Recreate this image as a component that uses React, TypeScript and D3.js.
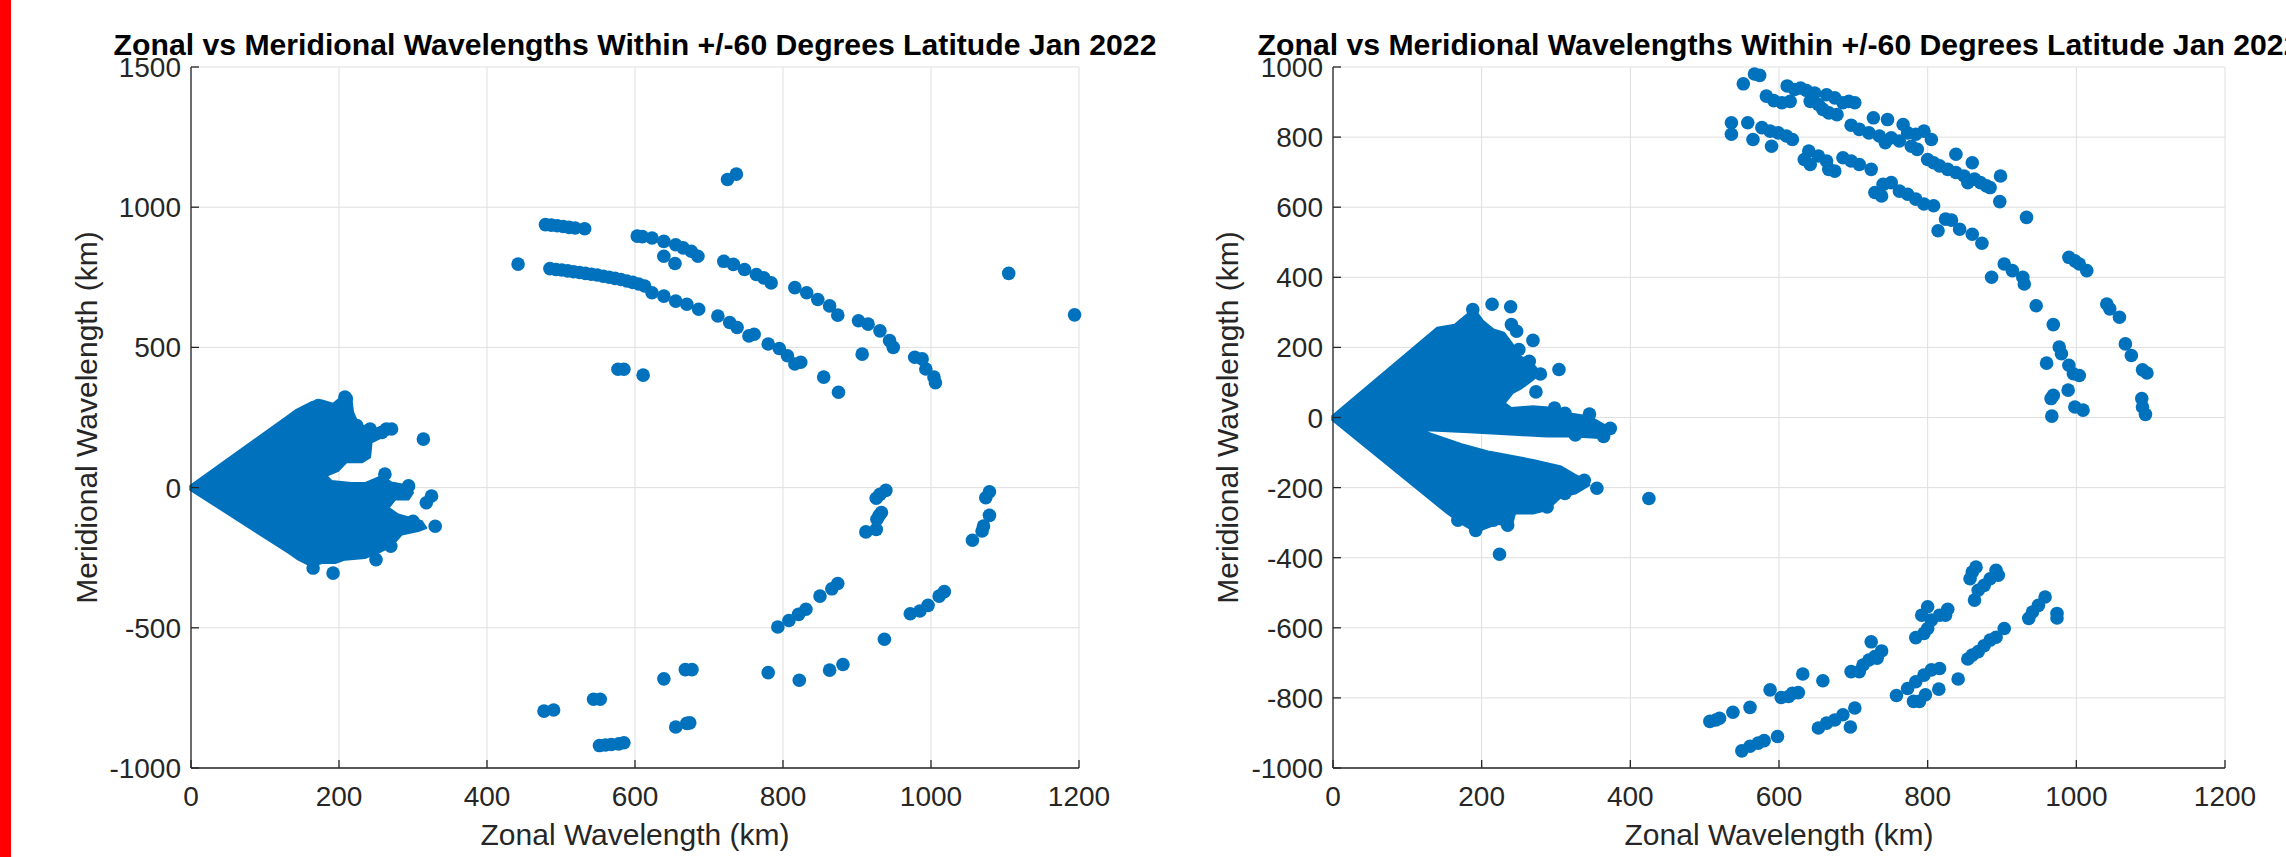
import React from 'react';
import * as d3 from 'd3';

const W = 2286;
const H = 857;

const titleText = 'Zonal vs Meridional Wavelengths Within +/-60 Degrees Latitude Jan 2022';
const xLabel = 'Zonal Wavelength (km)';
const yLabel = 'Meridional Wavelength (km)';

const xTicks = [0, 200, 400, 600, 800, 1000, 1200];
const leftYTicks = [-1000, -500, 0, 500, 1000, 1500];
const rightYTicks = [-1000, -800, -600, -400, -200, 0, 200, 400, 600, 800, 1000];

// outline of the solid blob of overlapping markers near the origin (km, km)
const leftFan: [number, number][] = [
  [-1, 6], [127, 248], [141, 275], [163, 305], [177, 311], [192, 299], [206, 329], [217, 311],
  [219, 269], [226, 227], [244, 209], [262, 215], [278, 203], [258, 179], [244, 161], [242, 108],
  [231, 90], [210, 90], [199, 60], [183, 42], [190, 24], [217, 16], [235, 16], [258, 42],
  [271, 18], [296, 6], [300, -18], [294, -42], [276, -42], [267, -72], [280, -96], [312, -120],
  [318, -144], [307, -155], [285, -167], [271, -209], [253, -233], [235, -251], [208, -257],
  [195, -269], [177, -269], [163, -281], [145, -257], [132, -233], [-1, -8],
];

const rightFan: [number, number][] = [
  [-1, 4], [140, 256], [164, 265], [183, 299], [192, 304], [202, 275], [216, 251], [230, 242],
  [242, 208], [250, 175], [264, 165], [279, 127], [269, 108], [254, 84], [242, 70], [231, 41],
  [240, 27], [269, 32], [298, 27], [317, 12], [345, 3], [369, -26], [374, -40], [364, -59],
  [326, -54], [288, -54], [250, -50], [183, -42], [118, -36], [173, -76], [211, -98],
  [269, -121], [307, -140], [326, -164], [340, -179], [345, -193], [326, -217], [307, -226],
  [288, -264], [269, -274], [245, -274], [240, -312], [221, -303], [192, -327], [173, -303],
  [154, -274], [-1, -7],
];

// loose markers, left panel
const leftPoints: [number, number][] = [
  // edge of the blob
  [210, 317], [172, 293], [208, 323], [224, 221], [242, 209], [258, 197], [271, 209], [264, 209],
  [314, 173], [262, 48], [294, 6], [287, -18], [325, -30], [318, -54], [330, -138], [300, -120],
  [192, -305], [165, -287], [250, -257], [270, -209],
  // upper arcs
  [725, 1099], [737, 1118],
  [442, 797],
  [479, 938], [487, 936], [495, 934], [503, 931], [511, 928], [519, 926], [532, 923],
  [603, 897], [610, 895],
  [623, 890], [639, 878], [655, 866], [665, 855], [676, 843], [685, 825], [639, 825], [654, 799],
  [720, 807], [733, 796], [748, 778], [764, 760], [774, 748], [784, 730],
  [816, 713], [832, 695], [847, 671], [863, 648], [874, 615],
  [902, 595], [915, 583], [931, 559], [944, 524], [949, 500], [907, 476],
  [978, 465], [988, 459], [993, 423], [1004, 394], [1006, 374],
  [855, 394], [875, 340], [1105, 764], [1194, 616],
  [485, 781], [493, 778], [501, 776], [509, 773], [517, 770], [525, 767], [533, 764],
  [541, 761], [549, 758], [557, 754], [565, 750], [573, 746], [581, 742], [589, 737],
  [597, 732], [605, 726], [613, 719],
  [623, 695], [639, 683], [655, 665], [670, 654], [686, 636], [712, 612], [728, 589],
  [738, 571], [754, 541], [761, 547], [780, 512], [795, 496], [806, 470], [816, 441], [824, 447],
  [577, 422], [585, 422], [611, 401],
  // lower arcs
  [639, -682], [668, -649], [677, -649], [655, -854], [670, -841], [674, -839],
  [780, -660], [822, -687], [863, -651], [881, -631],
  [793, -497], [808, -474], [821, -452], [831, -434], [850, -387], [866, -361], [874, -342],
  [937, -541], [912, -158], [926, -149], [927, -113], [930, -99], [933, -89],
  [926, -38], [931, -24], [939, -10],
  [972, -450], [985, -440], [996, -420], [1011, -387], [1018, -371],
  [1056, -188], [1069, -155], [1071, -137], [1079, -99], [1074, -36], [1079, -15],
  [477, -797], [490, -793], [544, -755], [553, -755],
  [552, -920], [560, -918], [568, -916], [578, -914], [585, -910],
];

// loose markers, right panel
const rightPoints: [number, number][] = [
  // edge of the blob
  [214, 323], [239, 316], [269, 220], [304, 137], [345, 10], [373, -31], [425, -231], [224, -390],
  [355, -202], [279, 124], [273, 73], [188, 308], [240, 265], [247, 246], [250, 194], [264, 160],
  [298, 27], [312, 12], [364, -54], [326, -50], [338, -179], [312, -217], [288, -255],
  [235, -307], [192, -322], [216, -293], [168, -293],
  // upper arcs
  [567, 980], [574, 976], [552, 952], [611, 946],
  [583, 917], [593, 904], [604, 898], [615, 902], [621, 936], [629, 940], [637, 933], [642, 902],
  [648, 926], [653, 893], [659, 879], [664, 921], [667, 869], [675, 912], [678, 864], [686, 898],
  [694, 902], [702, 898],
  [727, 855], [746, 850], [697, 834], [708, 822], [721, 812], [735, 803], [743, 784], [751, 798],
  [767, 836], [773, 812], [784, 808], [786, 765], [795, 817], [805, 793], [762, 789], [778, 774],
  [800, 736], [808, 727], [816, 718], [827, 708], [838, 699], [849, 689], [854, 670], [863, 680],
  [871, 670], [879, 661], [884, 656], [838, 751], [860, 727], [898, 689],
  [897, 616], [933, 571], [990, 457], [998, 447], [1004, 438], [1014, 419],
  [1041, 324], [1045, 310], [1058, 286], [1066, 210], [1074, 177], [1089, 136], [1095, 127],
  [1088, 54], [1089, 30], [1093, 9],
  [536, 841], [536, 808], [558, 841], [565, 793], [577, 827], [588, 817], [590, 774], [599, 812],
  [610, 803], [618, 793],
  [640, 760], [634, 736], [642, 722], [653, 746], [664, 732], [675, 703], [686, 741], [697, 732],
  [708, 722], [724, 708], [667, 708],
  [729, 642], [738, 632], [740, 665], [751, 670], [762, 646], [773, 637], [784, 623], [795, 609],
  [808, 604],
  [814, 533], [824, 566], [832, 563], [843, 537], [860, 523], [873, 497],
  [886, 400], [903, 438], [914, 419], [928, 400], [930, 381],
  [946, 319], [969, 265], [977, 201], [980, 182], [960, 155], [990, 149], [996, 125], [1004, 120],
  [969, 63], [966, 54], [989, 78], [998, 30], [1009, 21], [967, 4],
  // lower arcs
  [507, -867], [515, -863], [520, -858], [538, -841], [561, -827], [588, -777], [603, -799],
  [613, -796], [618, -787], [626, -785], [632, -732], [659, -751], [697, -725], [708, -725],
  [713, -706], [721, -692], [724, -640], [729, -682], [738, -666], [732, -687],
  [550, -951], [561, -938], [572, -929], [580, -922], [598, -910], [653, -886], [664, -872],
  [675, -863], [686, -848], [702, -829], [696, -883],
  [758, -793], [773, -773], [781, -810], [789, -810], [797, -791], [784, -754], [795, -735],
  [805, -720], [816, -716], [815, -775], [841, -746],
  [784, -628], [795, -616], [800, -602], [792, -564], [800, -540], [805, -578], [816, -564],
  [827, -547], [824, -564],
  [854, -689], [860, -678], [868, -668], [876, -651], [884, -635], [892, -627], [903, -602],
  [857, -460], [860, -441], [865, -427], [863, -521], [868, -493], [876, -479], [884, -460],
  [892, -436], [895, -450],
  [936, -573], [941, -555], [949, -536], [958, -512], [974, -572], [974, -559],
];

const BLUE = '#0072BD';
const AXIS = '#262626';
const GRID = '#dfdfdf';
const FONT = 'Liberation Sans, Arial, Helvetica, sans-serif';
const TOP = 67;
const BOTTOM = 768;

type PanelProps = {
  left: number;
  right: number;
  yDomain: [number, number];
  yTicks: number[];
  fan: [number, number][];
  pts: [number, number][];
  yLabelX: number;
};

const Panel = ({ left, right, yDomain, yTicks, fan, pts, yLabelX }: PanelProps) => {
  const x = d3.scaleLinear().domain([0, 1200]).range([left, right]);
  const y = d3.scaleLinear().domain(yDomain).range([BOTTOM, TOP]);
  const outline = d3
    .line<[number, number]>()
    .x((d) => x(d[0]))
    .y((d) => y(d[1]))
    .curve(d3.curveLinearClosed);
  const cx = (left + right) / 2;
  const cy = (TOP + BOTTOM) / 2;

  return (
    <g>
      {/* grid */}
      {xTicks.map((t) => (
        <line key={'gx' + t} x1={x(t)} x2={x(t)} y1={TOP} y2={BOTTOM} stroke={GRID} strokeWidth={1} />
      ))}
      {yTicks.map((t) => (
        <line key={'gy' + t} x1={left} x2={right} y1={y(t)} y2={y(t)} stroke={GRID} strokeWidth={1} />
      ))}

      {/* dense cluster + markers */}
      <path d={outline(fan) || ''} fill={BLUE} stroke={BLUE} strokeWidth={2} strokeLinejoin="round" />
      {pts.map((d, i) => (
        <circle key={i} cx={x(d[0])} cy={y(d[1])} r={6.8} fill={BLUE} />
      ))}

      {/* axes */}
      <line x1={left} x2={right} y1={BOTTOM} y2={BOTTOM} stroke={AXIS} strokeWidth={1.3} />
      <line x1={left} x2={left} y1={TOP} y2={BOTTOM} stroke={AXIS} strokeWidth={1.3} />
      {xTicks.map((t) => (
        <g key={'tx' + t}>
          <line x1={x(t)} x2={x(t)} y1={BOTTOM} y2={BOTTOM - 8} stroke={AXIS} strokeWidth={1.3} />
          <text x={x(t)} y={BOTTOM + 38} textAnchor="middle" fontSize={28} fill={AXIS} fontFamily={FONT}>
            {t}
          </text>
        </g>
      ))}
      {yTicks.map((t) => (
        <g key={'ty' + t}>
          <line x1={left} x2={left + 8} y1={y(t)} y2={y(t)} stroke={AXIS} strokeWidth={1.3} />
          <text x={left - 10} y={y(t) + 10} textAnchor="end" fontSize={28} fill={AXIS} fontFamily={FONT}>
            {t}
          </text>
        </g>
      ))}

      {/* labels */}
      <text x={cx} y={845} textAnchor="middle" fontSize={30} fill={AXIS} fontFamily={FONT}>
        {xLabel}
      </text>
      <text
        transform={`translate(${yLabelX},${cy}) rotate(-90)`}
        textAnchor="middle"
        fontSize={30}
        fill={AXIS}
        fontFamily={FONT}
      >
        {yLabel}
      </text>
      <text x={cx} y={55} textAnchor="middle" fontSize={30.2} fontWeight="bold" fill="#000" fontFamily={FONT}>
        {titleText}
      </text>
    </g>
  );
};

export default function App() {
  return (
    <svg
      width={W}
      height={H}
      style={{ position: 'absolute', left: 0, top: 0, background: '#fff' }}
    >
      <rect x={0} y={0} width={W} height={H} fill="#fff" />
      <rect x={0} y={0} width={11} height={H} fill="#ff0000" />
      <Panel
        left={191}
        right={1079}
        yDomain={[-1000, 1500]}
        yTicks={leftYTicks}
        fan={leftFan}
        pts={leftPoints}
        yLabelX={97}
      />
      <Panel
        left={1333}
        right={2225}
        yDomain={[-1000, 1000]}
        yTicks={rightYTicks}
        fan={rightFan}
        pts={rightPoints}
        yLabelX={1238}
      />
    </svg>
  );
}
